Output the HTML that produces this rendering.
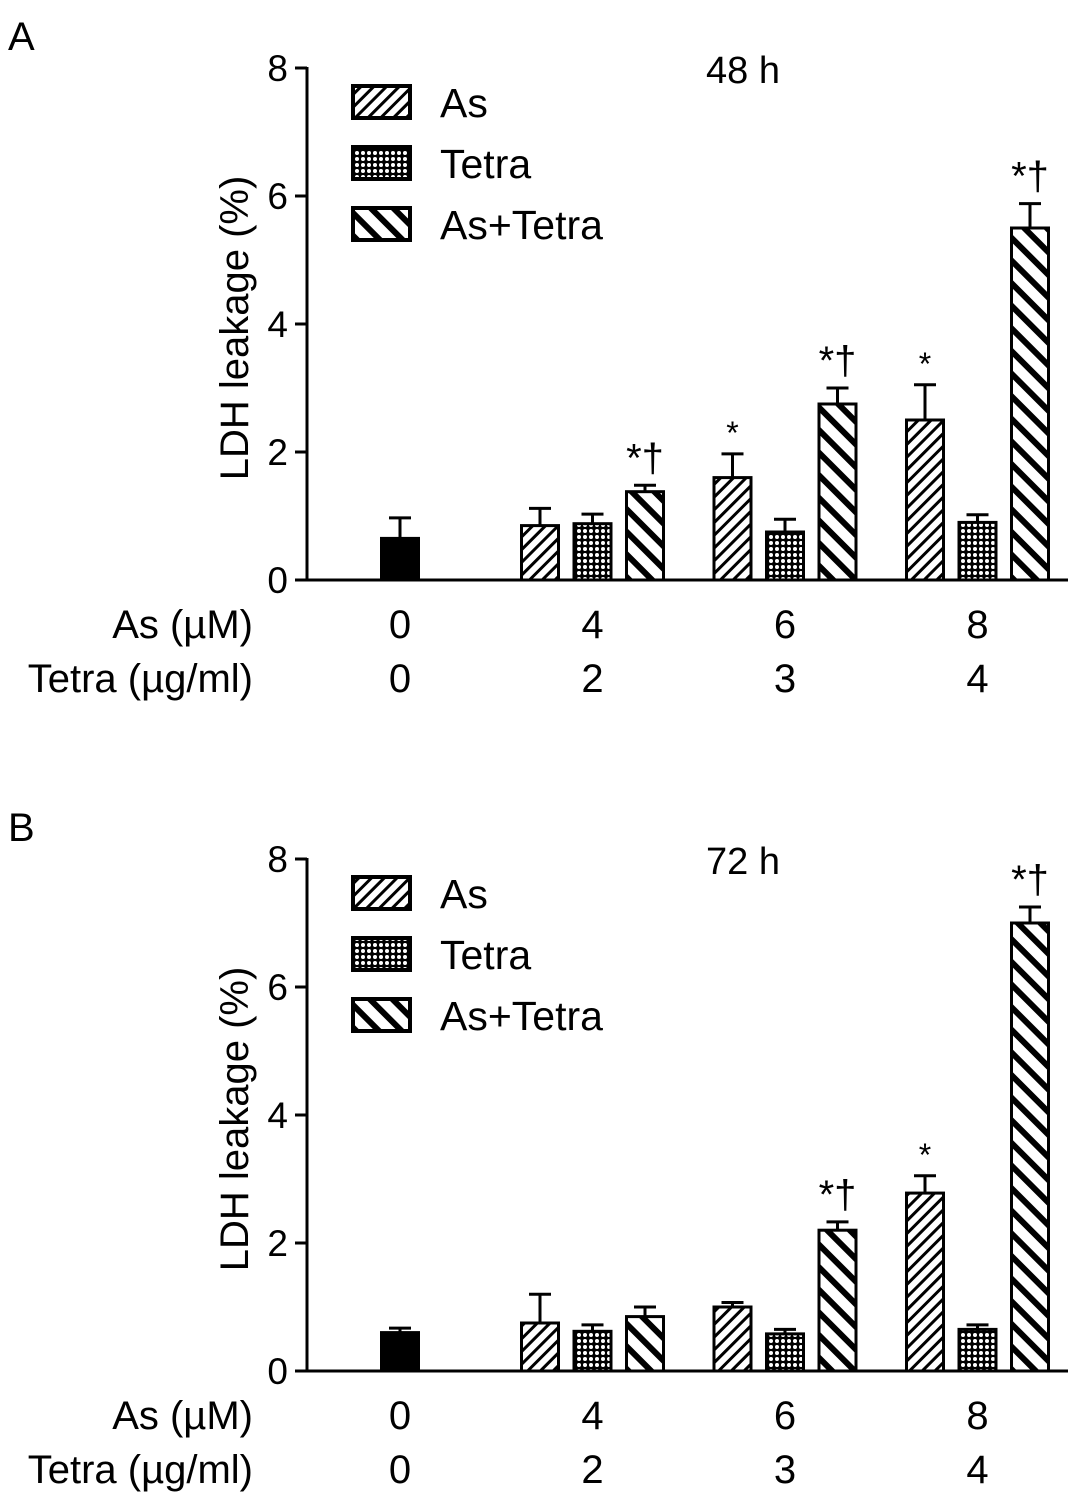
<!DOCTYPE html>
<html><head><meta charset="utf-8"><style>
body{margin:0;background:#fff}
svg{display:block;font-family:"Liberation Sans",sans-serif}
</style></head><body>
<svg id="s" width="1087" height="1507">
<defs>
<pattern id="pAs" width="9" height="9" patternUnits="userSpaceOnUse" patternTransform="rotate(45)"><rect width="9" height="9" fill="#fff"/><rect width="3" height="9" fill="#000"/></pattern>
<pattern id="pTe" width="6" height="6" patternUnits="userSpaceOnUse"><rect width="6" height="6" fill="#000"/><circle cx="3" cy="3" r="2" fill="#fff"/></pattern>
<pattern id="pAT" width="16" height="16" patternUnits="userSpaceOnUse" patternTransform="rotate(-45)"><rect width="16" height="16" fill="#fff"/><rect width="6" height="16" fill="#000"/></pattern>
</defs>
</svg>
<script>
const categoriesAs=["0","4","6","8"];
const categoriesTetra=["0","2","3","4"];
const ticks=[0,2,4,6,8];
const seriesNames=["As","Tetra","As+Tetra"];
const aControl=[0.65],aControlErr=[0.32];
const aAs=[0.85,1.6,2.5],aAsErr=[0.27,0.37,0.55];
const aTe=[0.88,0.75,0.9],aTeErr=[0.15,0.2,0.12];
const aAT=[1.38,2.75,5.5],aATErr=[0.1,0.25,0.38];
const bControl=[0.6],bControlErr=[0.07];
const bAs=[0.75,1.0,2.78],bAsErr=[0.45,0.07,0.27];
const bTe=[0.62,0.58,0.65],bTeErr=[0.1,0.07,0.07];
const bAT=[0.85,2.2,7.0],bATErr=[0.15,0.13,0.25];
const aMarks=[["","*","*"],["","",""],["*†","*†","*†"]];
const bMarks=[["","","*"],["","",""],["","*†","*†"]];
const svg=document.getElementById('s');const NS="http://www.w3.org/2000/svg";
function mk(t,a,txt){const e=document.createElementNS(NS,t);for(const k in a)e.setAttribute(k,a[k]);if(txt!==undefined)e.textContent=txt;svg.appendChild(e);return e;}
function panel(letter,title,y0,ctrl,ctrlE,ser,errs,marks){
 const y=v=>y0-v*64;const ax=307;
 let e=mk('text',{x:8,y:y0-512-18,'font-size':40},letter);
 e=mk('text',{x:743,y:y(8)+15,'font-size':38,'text-anchor':'middle'},title);
 e=mk('line',{x1:ax,y1:y(8)-1,x2:ax,y2:y0+1.5,stroke:'#000','stroke-width':3});
 e=mk('line',{x1:ax,y1:y0,x2:1068,y2:y0,stroke:'#000','stroke-width':3});
 ticks.forEach(t=>{const l=mk('line',{x1:ax-12,y1:y(t),x2:ax,y2:y(t),stroke:'#000','stroke-width':3});
  const tx=mk('text',{x:ax-19,y:y(t)+13,'font-size':37,'text-anchor':'end'},String(t));});
 e=mk('text',{x:0,y:0,'font-size':40,'text-anchor':'middle',transform:`translate(248,${y(4)+4}) rotate(-90)`},'LDH leakage (%)');
 const fills=['url(#pAs)','url(#pTe)','url(#pAT)'];
 seriesNames.forEach((n,i)=>{const ly=y(8)+18+i*61;
  const r=mk('rect',{x:353,y:ly,width:57,height:32,fill:fills[i],stroke:'#000','stroke-width':4});
  const t=mk('text',{x:440,y:ly+31,'font-size':41},n);});
 const bw=37;
 function bar(cx,v,er,fill,name,mark){
  const top=y(v);
  const el=mk('line',{x1:cx,y1:top,x2:cx,y2:y(v+er),stroke:'#000','stroke-width':3});
  const cp=mk('line',{x1:cx-11,y1:y(v+er),x2:cx+11,y2:y(v+er),stroke:'#000','stroke-width':3});
  const r=mk('rect',{x:cx-bw/2,y:top,width:bw,height:y0-top,fill:fill,stroke:'#000','stroke-width':3});
  if(mark){const m=mk('text',{x:cx,y:y(v+er)-(mark.length>1?14:10),'font-size':mark.length>1?40:32,'text-anchor':'middle'},mark);}
 }
 const gx=c=>400+c*192.5;
 bar(gx(0),ctrl[0],ctrlE[0],'#000','bar-control','');
 for(let g=0;g<3;g++)for(let s=0;s<3;s++)bar(gx(g+1)+(s-1)*52.5,ser[s][g],errs[s][g],fills[s],'bar-'+['as','tetra','as-tetra'][s]+'-'+categoriesAs[g+1],marks[s][g]);
 e=mk('text',{x:253,y:y0+58,'font-size':40,'text-anchor':'end'},'As (µM)');
 e=mk('text',{x:253,y:y0+112,'font-size':40,'text-anchor':'end'},'Tetra (µg/ml)');
 categoriesAs.forEach((c,i)=>{const t=mk('text',{x:gx(i),y:y0+58,'font-size':40,'text-anchor':'middle'},c);});
 categoriesTetra.forEach((c,i)=>{const t=mk('text',{x:gx(i),y:y0+112,'font-size':40,'text-anchor':'middle'},c);});
}
panel('A','48 h',580,aControl,aControlErr,[aAs,aTe,aAT],[aAsErr,aTeErr,aATErr],aMarks);
panel('B','72 h',1371,bControl,bControlErr,[bAs,bTe,bAT],[bAsErr,bTeErr,bATErr],bMarks);
</script>
</body></html>
